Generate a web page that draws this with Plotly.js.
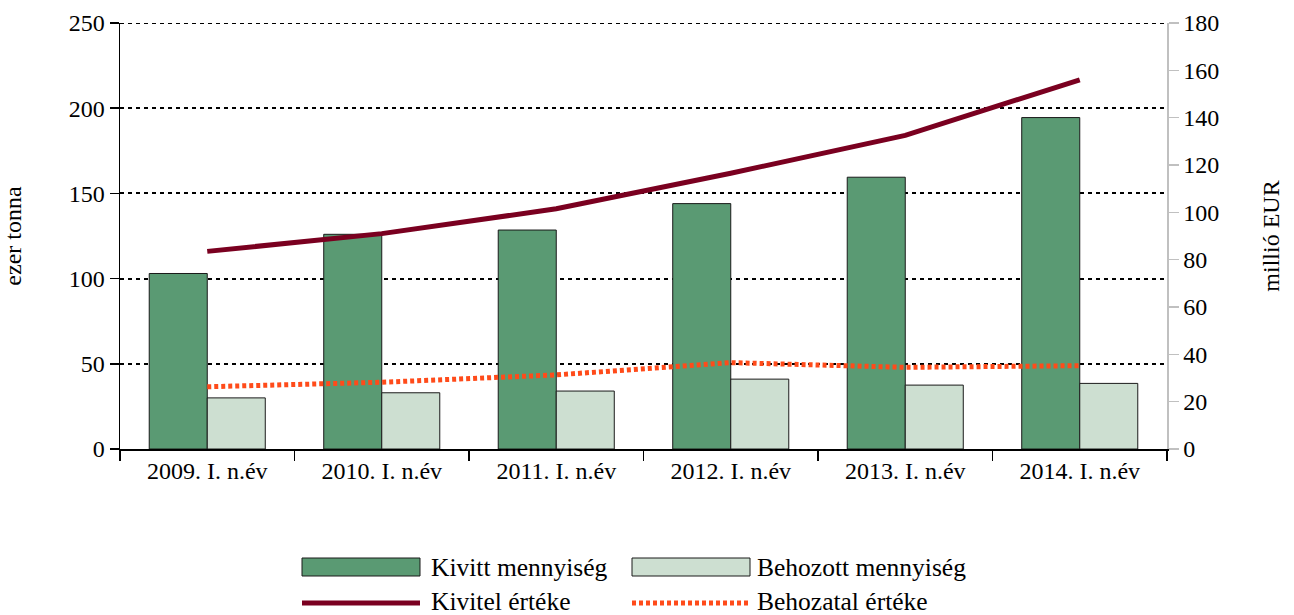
<!DOCTYPE html>
<html>
<head>
<meta charset="utf-8">
<script src="https://cdn.plot.ly/plotly-3.0.1.min.js"></script>
<style>html,body{margin:0;padding:0;background:#fff;}#chart{width:1294px;height:615px;}</style>
</head>
<body>
<div id="chart"></div>
<script>
const categories = ["2009. I. n.év", "2010. I. n.év", "2011. I. n.év", "2012. I. n.év", "2013. I. n.év", "2014. I. n.év"];
const kivittMennyiseg = [103, 126, 128.5, 144, 159.5, 194.5];
const behozottMennyiseg = [30, 33, 34, 41, 37.5, 38.5];
const kivitelErteke = [83.5, 91, 101.5, 116.5, 132.5, 156];
const behozatalErteke = [26.3, 28.2, 31.3, 36.5, 34.5, 35.2];
const leftTicks = [0, 50, 100, 150, 200, 250];
const rightTicks = [0, 20, 40, 60, 80, 100, 120, 140, 160, 180];

const FONT = '"Liberation Serif", "Times New Roman", serif';
const C_KIVITT = "#5a9a73";
const C_BEHOZOTT = "#cddfd1";
const C_KIVITEL = "#7a0020";
const C_BEHOZATAL = "#ff4b1a";
const TICK_SIZE = 24;
const LEG_SIZE = 25.5;

const traces = [
  {type: "bar", name: "Kivitt mennyiség", x: categories, y: kivittMennyiseg,
   marker: {color: C_KIVITT, line: {color: "#1a1a1a", width: 1}}, yaxis: "y", showlegend: false, hoverinfo: "skip"},
  {type: "bar", name: "Behozott mennyiség", x: categories, y: behozottMennyiseg,
   marker: {color: C_BEHOZOTT, line: {color: "#1a1a1a", width: 1}}, yaxis: "y", showlegend: false, hoverinfo: "skip"},
  {type: "scatter", mode: "lines", name: "Kivitel értéke", x: categories, y: kivitelErteke,
   line: {color: C_KIVITEL, width: 5}, yaxis: "y2", showlegend: false, hoverinfo: "skip"},
  {type: "scatter", mode: "lines", name: "Behozatal értéke", x: categories, y: behozatalErteke,
   line: {color: C_BEHOZATAL, width: 5, dash: "4px,3px"}, yaxis: "y2", showlegend: false, hoverinfo: "skip"}
];

// custom legend (paper coords)
const L = 120, W = 1047, B = 449, H = 426;
const px = v => (v - L) / W;
const py = v => (B - v) / H;
const shapes = [
  // top gridline at 250 (edge of plot area)
  {type: "line", xref: "paper", yref: "y", x0: 0, x1: 1, y0: 250, y1: 250,
   line: {color: "#000", width: 2, dash: "4px,4px"}, layer: "below"},
  {type: "rect", xref: "paper", yref: "paper", x0: px(302), x1: px(420), y0: py(558), y1: py(576),
   fillcolor: C_KIVITT, line: {color: "#1a1a1a", width: 1}},
  {type: "rect", xref: "paper", yref: "paper", x0: px(632), x1: px(750), y0: py(558), y1: py(576),
   fillcolor: C_BEHOZOTT, line: {color: "#1a1a1a", width: 1}},
  {type: "line", xref: "paper", yref: "paper", x0: px(302), x1: px(420), y0: py(603), y1: py(603),
   line: {color: C_KIVITEL, width: 5}},
  {type: "line", xref: "paper", yref: "paper", x0: px(632), x1: px(750), y0: py(603), y1: py(603),
   line: {color: C_BEHOZATAL, width: 5, dash: "4px,3px"}}
];
const legendLabels = [
  {text: "Kivitt mennyiség", x: 429, y: 567},
  {text: "Behozott mennyiség", x: 755, y: 567},
  {text: "Kivitel értéke", x: 429, y: 601},
  {text: "Behozatal értéke", x: 755, y: 601}
];
const annotations = legendLabels.map(l => ({
  text: l.text, xref: "paper", yref: "paper", x: px(l.x), y: py(l.y),
  xanchor: "left", yanchor: "middle", showarrow: false,
  font: {family: FONT, size: LEG_SIZE, color: "#000"}
}));

const layout = {
  width: 1294, height: 615,
  margin: {l: 120, r: 127, t: 23, b: 166},
  paper_bgcolor: "#fff", plot_bgcolor: "#fff",
  font: {family: FONT, size: TICK_SIZE, color: "#000"},
  barmode: "group", bargap: 0.335, bargroupgap: 0,
  showlegend: false,
  xaxis: {
    type: "category", showline: true, linecolor: "#000", linewidth: 1.5,
    ticks: "outside", tickson: "boundaries", ticklen: 10, tickcolor: "#000", tickwidth: 1.5,
    showgrid: false, zeroline: false, tickfont: {family: FONT, size: TICK_SIZE, color: "#000"}
  },
  yaxis: {
    range: [0, 250], tickvals: leftTicks, ticktext: leftTicks.map(String),
    showline: true, linecolor: "#000", linewidth: 1.5,
    ticks: "outside", ticklen: 9, tickcolor: "#000", tickwidth: 1.5,
    showgrid: true, gridcolor: "#000", gridwidth: 2, griddash: "4px,4px",
    zeroline: false, tickfont: {family: FONT, size: TICK_SIZE, color: "#000"},
    title: {text: "ezer tonna", font: {family: FONT, size: TICK_SIZE, color: "#000"}, standoff: 42}
  },
  yaxis2: {
    range: [0, 180], tickvals: rightTicks, ticktext: rightTicks.map(String),
    overlaying: "y", side: "right",
    showline: true, linecolor: "#c0c0c0", linewidth: 1.5,
    ticks: "outside", ticklen: 10, tickcolor: "#c0c0c0", tickwidth: 1.5,
    showgrid: false, zeroline: false, tickfont: {family: FONT, size: TICK_SIZE, color: "#000"},
    title: {text: "millió EUR", font: {family: FONT, size: TICK_SIZE, color: "#000"}, standoff: 44}
  },
  shapes: shapes,
  annotations: annotations
};

Plotly.newPlot("chart", traces, layout, {displayModeBar: false, staticPlot: true});
</script>
</body>
</html>
